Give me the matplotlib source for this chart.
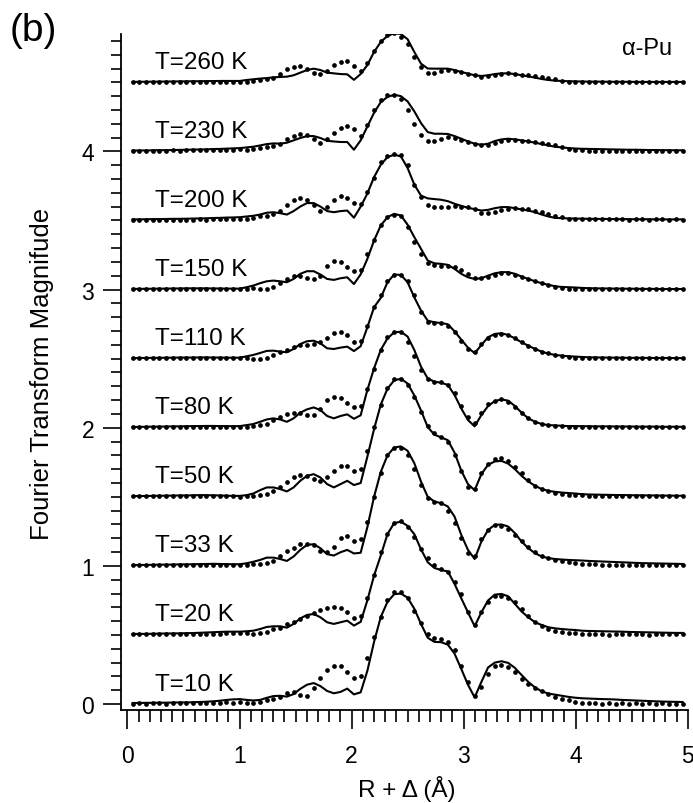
import numpy as np
import matplotlib
matplotlib.use('Agg')
import matplotlib.pyplot as plt
from matplotlib.ticker import MultipleLocator

plt.rcParams['font.family'] = ['Liberation Sans', 'DejaVu Sans']

# R + delta grid of the transforms (Angstrom)
r = np.linspace(0.046, 4.954, 83)

temps = ['10', '20', '33', '50', '80', '110', '150', '200', '230', '260']

# FT magnitude, data (dots) and fit (line), without offsets
data_10K = [0.004,0.005,0.004,0.006,0.005,0.004,0.006,0.005,0.006,0.007,0.006,0.008,0.009,0.011,0.012,0.010,
            0.012,0.008,0.010,0.018,0.028,0.036,0.050,0.080,0.090,0.068,0.062,0.115,0.190,0.250,0.278,0.272,0.232,0.190,0.200,0.330,0.483,0.633,0.754,0.812,0.814,0.766,0.676,0.587,0.507,0.478,0.471,0.452,0.390,0.278,0.157,0.060,0.120,0.217,0.273,0.280,0.266,0.230,0.180,0.145,0.116,0.094,0.072,0.053,0.038,0.028,0.015,0.009,0.006,
            0.005,0.004,0.006,0.004,0.005,0.003,0.005,0.004,0.006,0.004,0.005,0.004,0.003,0.004]
fit_10K = [0.008,0.008,0.009,0.009,0.010,0.010,0.011,0.012,0.012,0.013,0.015,0.017,0.020,0.024,0.030,0.034,
           0.036,0.030,0.026,0.030,0.045,0.058,0.060,0.054,0.072,0.110,0.140,0.152,0.130,0.095,0.078,0.088,0.112,0.070,0.085,0.240,0.450,0.630,0.740,0.795,0.800,0.770,0.690,0.580,0.480,0.450,0.448,0.430,0.365,0.255,0.140,0.048,0.160,0.265,0.300,0.310,0.298,0.262,0.210,0.160,0.120,0.092,0.076,0.068,0.060,0.052,0.046,0.042,0.040,
           0.038,0.036,0.035,0.033,0.030,0.028,0.026,0.024,0.022,0.020,0.018,0.017,0.016,0.015]

data_20K = [0.005,0.006,0.004,0.005,0.007,0.005,0.006,0.004,0.006,0.007,0.005,0.008,0.007,0.009,0.011,0.012,
            0.014,0.012,0.007,0.014,0.024,0.043,0.053,0.080,0.097,0.116,0.135,0.160,0.180,0.193,0.203,0.198,0.170,0.120,0.140,0.270,0.435,0.600,0.730,0.810,0.823,0.780,0.710,0.620,0.555,0.507,0.478,0.455,0.380,0.297,0.164,0.072,0.164,0.237,0.280,0.285,0.266,0.237,0.188,0.140,0.092,0.063,0.043,0.027,0.019,0.014,0.012,0.007,0.005,
            0.004,0.005,0.003,0.005,0.004,0.006,0.004,0.005,0.003,0.005,0.004,0.006,0.004,0.005]
fit_20K = [0.007,0.008,0.008,0.009,0.010,0.011,0.011,0.012,0.013,0.014,0.016,0.018,0.020,0.022,0.024,0.024,
           0.024,0.027,0.031,0.043,0.058,0.063,0.063,0.053,0.080,0.120,0.145,0.152,0.128,0.092,0.080,0.092,0.104,0.068,0.095,0.250,0.430,0.575,0.730,0.810,0.820,0.790,0.730,0.620,0.527,0.485,0.470,0.460,0.370,0.266,0.164,0.063,0.164,0.250,0.292,0.297,0.280,0.225,0.170,0.128,0.092,0.072,0.056,0.048,0.043,0.039,0.036,0.031,0.029,
           0.028,0.027,0.026,0.025,0.024,0.022,0.021,0.020,0.019,0.018,0.017,0.016,0.015,0.015]

data_33K = [0.006,0.004,0.005,0.006,0.004,0.005,0.007,0.005,0.006,0.005,0.007,0.006,0.008,0.007,0.009,0.008,
            0.007,0.004,0.012,0.017,0.019,0.036,0.075,0.109,0.133,0.157,0.162,0.152,0.110,0.099,0.140,0.200,0.213,0.180,0.196,0.320,0.500,0.670,0.800,0.857,0.857,0.800,0.700,0.587,0.490,0.466,0.454,0.400,0.310,0.200,0.092,0.075,0.196,0.260,0.297,0.292,0.268,0.225,0.180,0.140,0.099,0.075,0.056,0.043,0.032,0.025,0.020,0.016,0.014,
            0.012,0.010,0.009,0.008,0.008,0.007,0.007,0.006,0.006,0.005,0.006,0.005,0.005,0.006]
fit_33K = [0.006,0.007,0.007,0.008,0.009,0.009,0.010,0.011,0.011,0.012,0.013,0.014,0.015,0.014,0.013,0.012,
           0.012,0.019,0.030,0.043,0.060,0.060,0.050,0.036,0.068,0.116,0.152,0.157,0.128,0.085,0.075,0.099,0.116,0.090,0.095,0.280,0.500,0.680,0.800,0.857,0.865,0.833,0.744,0.610,0.500,0.466,0.454,0.430,0.357,0.225,0.116,0.050,0.176,0.260,0.297,0.300,0.285,0.237,0.176,0.128,0.092,0.068,0.056,0.050,0.046,0.043,0.041,0.039,0.036,
           0.034,0.032,0.030,0.028,0.026,0.024,0.022,0.020,0.019,0.018,0.017,0.016,0.015,0.014]

data_50K = [0.004,0.005,0.006,0.004,0.005,0.006,0.005,0.004,0.006,0.005,0.007,0.006,0.005,0.006,0.004,0.003,
            0.002,0.005,0.007,0.010,0.019,0.043,0.072,0.109,0.145,0.160,0.150,0.126,0.116,0.140,0.188,0.220,0.220,0.188,0.200,0.330,0.505,0.667,0.787,0.850,0.853,0.810,0.720,0.613,0.510,0.460,0.430,0.400,0.300,0.184,0.072,0.056,0.170,0.237,0.275,0.280,0.260,0.217,0.170,0.121,0.080,0.056,0.039,0.027,0.019,0.014,0.012,0.010,0.007,
            0.006,0.005,0.006,0.004,0.005,0.006,0.004,0.005,0.004,0.006,0.005,0.004,0.005,0.004]
fit_50K = [0.005,0.006,0.006,0.007,0.008,0.008,0.009,0.010,0.010,0.011,0.012,0.012,0.011,0.010,0.008,0.007,
           0.007,0.012,0.024,0.048,0.068,0.068,0.056,0.039,0.068,0.116,0.152,0.164,0.140,0.092,0.068,0.092,0.116,0.085,0.100,0.290,0.490,0.667,0.783,0.843,0.855,0.820,0.734,0.625,0.505,0.450,0.430,0.410,0.320,0.190,0.092,0.048,0.164,0.232,0.256,0.260,0.240,0.200,0.152,0.111,0.080,0.056,0.043,0.036,0.031,0.027,0.024,0.019,0.017,
           0.016,0.015,0.014,0.013,0.013,0.012,0.011,0.011,0.010,0.010,0.009,0.009,0.008,0.008]

data_80K = [0.005,0.004,0.006,0.005,0.004,0.006,0.005,0.007,0.005,0.006,0.004,0.006,0.005,0.007,0.006,0.008,
            0.007,0.004,0.012,0.019,0.027,0.056,0.075,0.097,0.109,0.104,0.092,0.092,0.133,0.200,0.220,0.213,0.181,0.147,0.157,0.278,0.423,0.563,0.660,0.695,0.690,0.623,0.520,0.418,0.350,0.333,0.333,0.310,0.250,0.157,0.080,0.031,0.104,0.171,0.196,0.205,0.188,0.152,0.104,0.068,0.043,0.027,0.017,0.012,0.010,0.008,0.007,0.006,0.006,
            0.005,0.006,0.004,0.005,0.006,0.004,0.005,0.004,0.006,0.005,0.004,0.005,0.006,0.004]
fit_80K = [0.006,0.006,0.007,0.008,0.008,0.009,0.010,0.010,0.011,0.012,0.012,0.013,0.013,0.012,0.012,0.011,
           0.012,0.019,0.027,0.043,0.060,0.068,0.060,0.043,0.068,0.109,0.133,0.147,0.128,0.085,0.068,0.085,0.097,0.065,0.090,0.273,0.430,0.563,0.647,0.690,0.695,0.660,0.563,0.442,0.357,0.333,0.326,0.310,0.237,0.140,0.056,0.010,0.092,0.157,0.193,0.205,0.196,0.157,0.109,0.068,0.043,0.027,0.019,0.017,0.014,0.012,0.012,0.011,0.011,
           0.010,0.010,0.010,0.009,0.009,0.009,0.008,0.008,0.008,0.008,0.007,0.007,0.007,0.007]

data_110K = [0.004,0.005,0.003,0.005,0.006,0.004,0.005,0.006,0.004,0.005,0.006,0.005,0.004,0.003,0.002,0.002,
             0.002,0.002,0.001,0.001,0.005,0.027,0.051,0.065,0.082,0.097,0.101,0.106,0.118,0.147,0.184,0.191,0.171,0.123,0.130,0.239,0.372,0.460,0.565,0.609,0.604,0.565,0.464,0.340,0.268,0.258,0.258,0.239,0.191,0.130,0.070,0.051,0.106,0.147,0.171,0.179,0.171,0.147,0.118,0.094,0.070,0.051,0.039,0.027,0.017,0.012,0.007,0.005,0.002,
             0.003,0.004,0.002,0.004,0.003,0.005,0.003,0.004,0.002,0.004,0.003,0.004,0.003,0.004]
fit_110K = [0.004,0.005,0.005,0.006,0.006,0.007,0.007,0.008,0.008,0.008,0.009,0.009,0.008,0.008,0.007,0.007,
            0.007,0.017,0.027,0.041,0.056,0.058,0.051,0.046,0.070,0.106,0.126,0.130,0.111,0.075,0.070,0.080,0.087,0.055,0.090,0.227,0.372,0.440,0.553,0.609,0.606,0.553,0.444,0.348,0.275,0.263,0.258,0.249,0.198,0.138,0.080,0.039,0.099,0.155,0.179,0.184,0.171,0.147,0.118,0.094,0.070,0.051,0.036,0.027,0.022,0.017,0.015,0.012,0.010,
            0.009,0.008,0.008,0.007,0.007,0.006,0.006,0.006,0.005,0.005,0.005,0.005,0.004,0.004]

data_150K = [0.005,0.004,0.006,0.005,0.004,0.005,0.006,0.004,0.005,0.006,0.005,0.004,0.006,0.005,0.004,0.005,
             0.005,0.005,0.012,0.002,0.005,0.022,0.046,0.077,0.101,0.101,0.085,0.077,0.101,0.174,0.205,0.203,0.167,0.133,0.143,0.254,0.360,0.464,0.524,0.543,0.529,0.450,0.345,0.254,0.190,0.179,0.174,0.174,0.162,0.143,0.114,0.085,0.082,0.094,0.109,0.118,0.118,0.109,0.094,0.077,0.060,0.046,0.036,0.022,0.012,0.007,0.005,0.005,0.002,
             0.004,0.003,0.005,0.004,0.003,0.005,0.004,0.003,0.005,0.004,0.003,0.004,0.005,0.003]
fit_150K = [0.005,0.005,0.006,0.006,0.007,0.007,0.008,0.008,0.009,0.009,0.009,0.009,0.008,0.008,0.007,0.007,
            0.007,0.017,0.029,0.046,0.060,0.065,0.060,0.053,0.077,0.114,0.133,0.133,0.109,0.077,0.070,0.082,0.089,0.040,0.110,0.222,0.355,0.464,0.524,0.548,0.536,0.470,0.380,0.295,0.210,0.190,0.186,0.179,0.150,0.114,0.089,0.077,0.082,0.101,0.118,0.126,0.126,0.114,0.094,0.077,0.060,0.046,0.034,0.024,0.019,0.017,0.015,0.012,0.010,
            0.009,0.008,0.008,0.007,0.007,0.006,0.006,0.005,0.005,0.005,0.004,0.004,0.004,0.004]

data_200K = [0.005,0.006,0.004,0.005,0.007,0.005,0.006,0.005,0.007,0.006,0.008,0.007,0.009,0.008,0.010,0.011,
             0.012,0.010,0.019,0.029,0.031,0.048,0.072,0.109,0.150,0.164,0.150,0.109,0.072,0.101,0.150,0.174,0.162,0.126,0.116,0.205,0.310,0.420,0.464,0.480,0.476,0.400,0.254,0.169,0.109,0.097,0.097,0.101,0.104,0.101,0.097,0.085,0.053,0.053,0.065,0.077,0.085,0.087,0.085,0.080,0.072,0.060,0.048,0.034,0.022,0.014,0.012,0.012,0.010,
             0.009,0.008,0.010,0.008,0.009,0.007,0.009,0.008,0.007,0.009,0.008,0.007,0.008,0.007]
fit_200K = [0.008,0.008,0.009,0.010,0.010,0.011,0.012,0.012,0.013,0.014,0.015,0.016,0.018,0.019,0.021,0.022,
            0.024,0.029,0.034,0.043,0.056,0.060,0.053,0.043,0.068,0.101,0.126,0.126,0.101,0.068,0.060,0.068,0.072,0.020,0.100,0.195,0.314,0.403,0.459,0.476,0.464,0.380,0.260,0.180,0.160,0.155,0.150,0.140,0.121,0.106,0.092,0.082,0.072,0.077,0.089,0.097,0.097,0.089,0.080,0.072,0.060,0.043,0.029,0.019,0.017,0.015,0.014,0.013,0.012,
            0.012,0.011,0.011,0.010,0.010,0.010,0.009,0.009,0.009,0.008,0.008,0.008,0.008,0.008]

data_230K = [0.004,0.006,0.005,0.004,0.006,0.005,0.007,0.006,0.008,0.007,0.009,0.008,0.010,0.009,0.011,0.012,
             0.014,0.007,0.019,0.024,0.029,0.039,0.056,0.092,0.111,0.126,0.116,0.092,0.060,0.092,0.135,0.169,0.184,0.159,0.111,0.188,0.297,0.370,0.406,0.406,0.377,0.297,0.200,0.121,0.077,0.072,0.092,0.104,0.099,0.085,0.068,0.056,0.043,0.048,0.063,0.077,0.085,0.082,0.077,0.072,0.065,0.058,0.053,0.043,0.029,0.017,0.010,0.007,0.005,
             0.005,0.006,0.004,0.005,0.006,0.004,0.005,0.006,0.004,0.005,0.004,0.006,0.005,0.004]
fit_230K = [0.006,0.007,0.007,0.008,0.009,0.009,0.010,0.011,0.012,0.013,0.014,0.015,0.017,0.018,0.020,0.022,
            0.024,0.029,0.034,0.043,0.053,0.058,0.056,0.063,0.080,0.097,0.111,0.111,0.097,0.077,0.072,0.068,0.068,0.012,0.080,0.180,0.280,0.357,0.394,0.410,0.400,0.362,0.290,0.205,0.140,0.128,0.128,0.126,0.111,0.092,0.072,0.056,0.048,0.056,0.075,0.087,0.092,0.087,0.080,0.072,0.063,0.053,0.043,0.034,0.029,0.024,0.021,0.019,0.018,
            0.017,0.016,0.015,0.014,0.013,0.012,0.012,0.011,0.010,0.010,0.009,0.009,0.008,0.008]

data_260K = [0.004,0.005,0.004,0.006,0.005,0.004,0.006,0.005,0.004,0.006,0.005,0.004,0.005,0.006,0.005,0.004,
             0.005,0.003,0.010,0.017,0.022,0.034,0.058,0.094,0.114,0.118,0.099,0.070,0.058,0.082,0.123,0.147,0.152,0.118,0.082,0.138,0.227,0.300,0.345,0.355,0.331,0.275,0.186,0.114,0.065,0.065,0.080,0.089,0.085,0.075,0.063,0.051,0.036,0.046,0.056,0.063,0.065,0.060,0.056,0.051,0.043,0.036,0.029,0.022,0.012,0.005,0.003,0.003,0.001,
             0.002,0.003,0.001,0.002,0.003,0.002,0.001,0.003,0.002,0.001,0.002,0.003,0.002,0.001]
fit_260K = [0.003,0.004,0.004,0.005,0.005,0.006,0.006,0.007,0.007,0.008,0.008,0.009,0.009,0.010,0.010,0.010,
            0.010,0.017,0.022,0.027,0.031,0.036,0.039,0.041,0.051,0.070,0.089,0.099,0.089,0.070,0.065,0.060,0.058,0.018,0.060,0.125,0.220,0.292,0.336,0.355,0.350,0.312,0.220,0.135,0.100,0.099,0.099,0.099,0.089,0.075,0.063,0.051,0.046,0.051,0.060,0.065,0.065,0.060,0.051,0.043,0.034,0.024,0.017,0.012,0.010,0.008,0.007,0.006,0.005,
            0.005,0.005,0.004,0.004,0.004,0.004,0.003,0.003,0.003,0.003,0.003,0.003,0.003,0.003]

data_sets = [data_10K, data_20K, data_33K, data_50K, data_80K,
             data_110K, data_150K, data_200K, data_230K, data_260K]
fit_sets = [fit_10K, fit_20K, fit_33K, fit_50K, fit_80K,
            fit_110K, fit_150K, fit_200K, fit_230K, fit_260K]

fig = plt.figure(figsize=(6.93, 8.04), dpi=100)
ax = fig.add_axes([0.1742, 0.1160, 0.8182, 0.8405])

# stack the temperatures, each shifted up by 0.5
for k, (t, d, f) in enumerate(zip(temps, data_sets, fit_sets)):
    off = 0.5 * k
    ax.plot(r, np.array(f) + off, color='black', lw=1.5)
    ax.plot(r, np.array(d) + off, 'o', color='black', ms=3.4, mec='none')
    ax.text(0.245, off + 0.105, f'T={t} K', fontsize=17.5, va='baseline')

ax.text(4.86, 4.705, '\u03b1-Pu', fontsize=17, ha='right', va='baseline')

ax.set_xlim(-0.06, 5.0)
ax.set_ylim(-0.041, 4.85)
ax.xaxis.set_major_locator(MultipleLocator(1))
ax.xaxis.set_minor_locator(MultipleLocator(0.1))
ax.yaxis.set_major_locator(MultipleLocator(1))
ax.yaxis.set_minor_locator(MultipleLocator(0.1))

for side in ['top', 'right']:
    ax.spines[side].set_visible(False)
for side in ['left', 'bottom']:
    ax.spines[side].set_linewidth(1.3)

ax.tick_params(axis='x', which='major', direction='out', length=14, width=1.2, pad=11, labelsize=16.5)
ax.tick_params(axis='x', which='minor', direction='out', length=8.5, width=1.2)
ax.tick_params(axis='y', which='major', direction='out', length=13, width=1.2, pad=6, labelsize=16.5)
ax.tick_params(axis='y', which='minor', direction='out', length=7.5, width=1.2)

fig.text(33 / 693, 1 - 31 / 804, '(b)', fontsize=28, ha='center', va='center')
fig.text(0.06, 1 - 374 / 804, 'Fourier Transform Magnifude', fontsize=18.5,
         rotation=90, ha='center', va='center')
fig.text(407 / 693, 1 - 797 / 804, 'R + \u0394 (\u00c5)', fontsize=17.5, ha='center', va='baseline')

fig.savefig('out.png', dpi=100)
